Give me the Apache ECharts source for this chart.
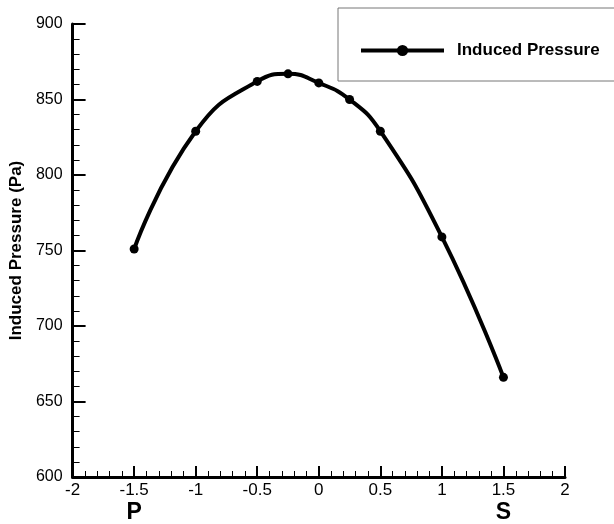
<!DOCTYPE html>
<html>
<head>
<meta charset="utf-8">
<script src="https://cdn.jsdelivr.net/npm/echarts@6/dist/echarts.min.js"></script>
<style>
html, body { margin: 0; padding: 0; background: #fff; }
#main { width: 614px; height: 524px; }
</style>
</head>
<body>
<div id="main"></div>
<script>
// positions along the blade (P = pressure side, S = suction side)
var xPos = [-1.5, -1, -0.5, -0.25, 0, 0.25, 0.5, 1, 1.5];
var pressure = [751, 829, 862, 867, 861, 850, 829, 759, 666];
var sideLabels = { '-1.5': 'P', '1.5': 'S' };
var seriesName = 'Induced Pressure';

var dom = document.getElementById('main');
var myChart = echarts.init(dom);
var pts = xPos.map(function (x, i) { return [x, pressure[i]]; });

var option = {
    animation: false,
    textStyle: { fontFamily: 'Liberation Sans, Arial, sans-serif' },
    legend: {
        data: [seriesName],
        left: 338, top: 8,
        padding: [34, 80, 22, 21],
        borderColor: '#777',
        borderWidth: 1,
        itemWidth: 83, itemHeight: 14,
        lineStyle: { width: 4 },
        textStyle: { fontSize: 17, fontWeight: 'bold', color: '#000', padding: [0, 0, 0, 8] }
    },
    grid: { left: 64, right: 49, top: 24, bottom: 43 },
    xAxis: [{
        type: 'value',
        min: -2, max: 2, interval: 0.5,
        axisLine: { onZero: false, lineStyle: { color: '#000', width: 3 } },
        axisTick: { inside: true, length: 11, lineStyle: { color: '#000', width: 2 } },
        minorTick: { show: true, splitNumber: 5, length: 6, lineStyle: { color: '#000', width: 1 } },
        splitLine: { show: false },
        axisLabel: { fontSize: 17, color: '#000', margin: 5 }
    }, {
        type: 'value',
        position: 'bottom',
        min: -2, max: 2, interval: 0.5,
        axisLine: { show: false },
        axisTick: { show: false },
        splitLine: { show: false },
        axisLabel: {
            fontSize: 23, fontWeight: 'bold', color: '#000', margin: 24,
            formatter: function (v) { return sideLabels[String(v)] || ''; }
        }
    }],
    yAxis: {
        type: 'value',
        min: 600, max: 900, interval: 50,
        name: 'Induced Pressure (Pa)',
        nameLocation: 'middle',
        nameGap: 45,
        nameTextStyle: { fontSize: 17, fontWeight: 'bold', color: '#000' },
        axisLine: { onZero: false, lineStyle: { color: '#000', width: 3 } },
        axisTick: { inside: true, length: 13, lineStyle: { color: '#000', width: 2 } },
        minorTick: { show: true, splitNumber: 5, length: 7, lineStyle: { color: '#000', width: 1 } },
        splitLine: { show: false },
        axisLabel: { fontSize: 16, color: '#000', margin: 10 }
    },
    series: [{
        name: seriesName,
        type: 'line',
        data: pts,
        smooth: 0.5,
        symbol: 'circle',
        symbolSize: 9,
        itemStyle: { color: '#000' },
        lineStyle: { color: '#000', width: 4 }
    }]
};
myChart.setOption(option);
</script>
</body>
</html>
